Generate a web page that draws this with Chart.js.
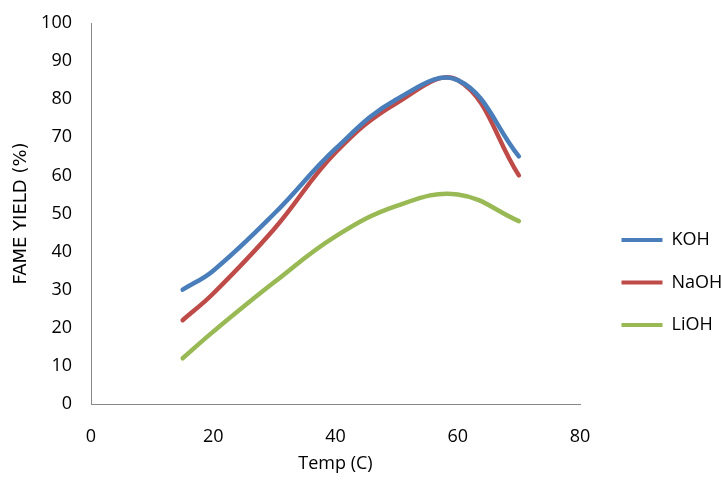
<!DOCTYPE html>
<html>
<head>
<meta charset="utf-8">
<script src="https://cdn.jsdelivr.net/npm/chart.js@4.4.0/dist/chart.umd.min.js"></script>
<style>
  body { margin: 0; background: #fff; }
  #wrap { width: 721px; height: 484px; }
</style>
</head>
<body>
<div id="wrap"><canvas id="chart"></canvas></div>
<script>
// temperature (C) and FAME yield (%) per catalyst
const temps = [15, 20, 30, 40, 50, 60, 70];
const koh = [30, 35, 50, 67, 80, 85, 65];
const naoh = [22, 29, 46, 66, 79, 85, 60];
const lioh = [12, 19, 32, 44, 52, 55, 48];

const toPoints = vals => temps.map((t, i) => ({ x: t, y: vals[i] }));
const font = { family: 'Open Sans', size: 18 };

const series = [
  { label: 'KOH', data: koh, color: '#4A7EBB' },
  { label: 'NaOH', data: naoh, color: '#BE4B48' },
  { label: 'LiOH', data: lioh, color: '#98B954' },
];

// legend sits right of the plot, a bit lower than its middle (like the Excel original)
const legendPlace = {
  id: 'legendPlace',
  afterInit(chart) {
    const lg = chart.legend;
    const fit = lg.fit;
    lg.fit = function () {
      fit.call(this);
      this.width = 721 - 580;
    };
  },
  afterLayout(chart) {
    const lg = chart.legend;
    lg.left = 597;
    lg.right = 721;
    lg.top = 92;
    lg.bottom = 473;
  },
};

new Chart(document.getElementById('chart').getContext('2d'), {
  type: 'line',
  data: {
    datasets: series.map(s => ({
      label: s.label,
      data: toPoints(s.data),
      borderColor: s.color,
      backgroundColor: s.color,
      borderWidth: 4.5,
      pointRadius: 0,
      tension: 0.4,
      borderCapStyle: 'round',
    }))
  },
  options: {
    responsive: true,
    maintainAspectRatio: false,
    animation: false,
    layout: { padding: { left: 7, top: 23, right: 0, bottom: 0 } },
    plugins: {
      tooltip: { enabled: false },
      legend: {
        position: 'right',
        labels: {
          color: '#000',
          font: font,
          boxWidth: 41,
          boxHeight: 4,
          padding: 24.5,
          generateLabels: chart => chart.data.datasets.map((d, i) => ({
            text: d.label,
            fillStyle: d.borderColor,
            strokeStyle: d.borderColor,
            lineWidth: 0,
            fontColor: '#000',
            datasetIndex: i,
          })),
        },
      },
    },
    scales: {
      x: {
        type: 'linear',
        min: 0,
        max: 80,
        afterFit: s => { s.height = 80; s.paddingLeft = 0; s.paddingRight = 0; },
        ticks: { stepSize: 20, color: '#000', font: font, padding: 22 },
        grid: { display: false, drawTicks: false },
        border: { color: '#888', width: 1 },
        title: { display: true, text: 'Temp (C)', color: '#000', font: font, padding: { top: 4, bottom: 9 } },
      },
      y: {
        min: 0,
        max: 100,
        afterFit: s => { s.width = 84; s.paddingTop = 0; s.paddingBottom = 0; },
        ticks: { stepSize: 10, color: '#000', font: font, padding: 19 },
        grid: { display: false, drawTicks: false },
        border: { color: '#888', width: 1 },
        title: { display: true, text: 'FAME YIELD (%)', color: '#000', font: { family: 'DejaVu Sans', size: 18 }, padding: { top: 4, bottom: 4 } },
      },
    },
  },
  plugins: [legendPlace],
});
</script>
</body>
</html>
